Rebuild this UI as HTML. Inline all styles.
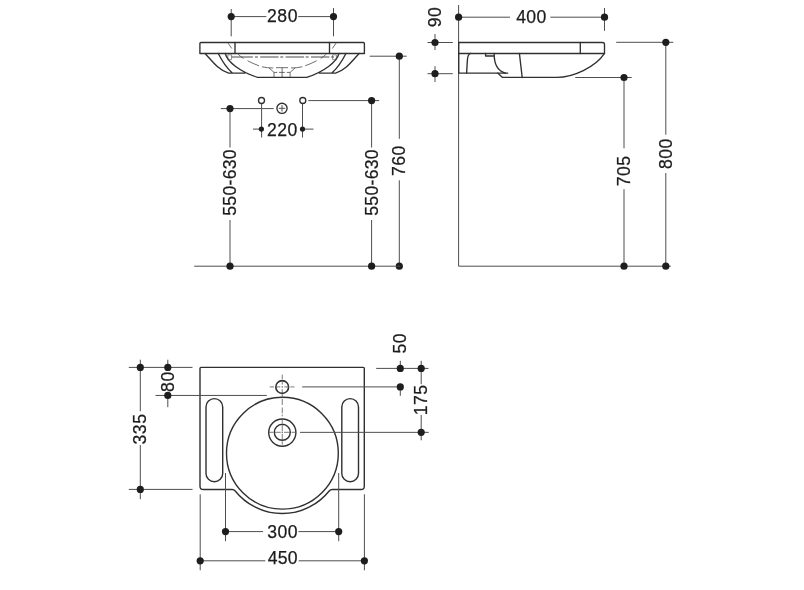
<!DOCTYPE html>
<html lang="en">
<head>
<meta charset="utf-8">
<title>Washbasin dimensions</title>
<style>
html,body{margin:0;padding:0;background:#fff;}
body{width:804px;height:590px;overflow:hidden;}
svg{display:block;will-change:transform;}
text{font-family:"Liberation Sans",sans-serif;font-size:17.6px;letter-spacing:0.5px;fill:#1c1c1c;stroke:#1c1c1c;stroke-width:0.25px;}
.t{stroke:#4e4e4e;stroke-width:1;fill:none;}
.d{fill:#1e1e1e;stroke:none;}
.k{stroke:#303030;stroke-width:1.35;fill:none;stroke-linecap:round;stroke-linejoin:round;}
.h{stroke:#4a4a4a;stroke-width:0.8;fill:none;}
</style>
</head>
<body>
<svg width="804" height="590" viewBox="0 0 804 590">
<rect width="804" height="590" fill="#fff"/>
<line class="t" x1="231.2" y1="9" x2="231.2" y2="36.3"/>
<line class="t" x1="333.5" y1="8" x2="333.5" y2="36.3"/>
<line class="t" x1="231.2" y1="16.6" x2="266.4" y2="16.6"/>
<line class="t" x1="298.2" y1="16.6" x2="333.5" y2="16.6"/>
<circle class="d" cx="231.2" cy="16.6" r="3.6"/>
<circle class="d" cx="333.5" cy="16.6" r="3.6"/>
<text x="282.50" y="21.65" text-anchor="middle">280</text>
<g class="k">
<path d="M199.9,53.45V43.5Q199.9,42.5 200.9,42.5H363.4Q364.4,42.5 364.4,43.5V53.45Z"/>
<path d="M235,42.5V53.45M329.5,42.5V53.45"/>
<path d="M205.1,53.45C212.5,61.5 219,70.5 228.6,73.1H244.8M218.3,53.45C222,61 226.5,67.5 232.3,73.1M225.2,53.45C227.5,62 240,71.5 257.5,77.4H282.2"/>
<g transform="translate(564.2,0) scale(-1,1)"><path d="M205.1,53.45C212.5,61.5 219,70.5 228.6,73.1H244.8M218.3,53.45C222,61 226.5,67.5 232.3,73.1M225.2,53.45C227.5,62 240,71.5 257.5,77.4H282.2"/></g>
</g>
<g class="h">
<path d="M228.1,43.1L231.8,48.5M237.7,53.9Q240.4,56.4 243.5,58.5M247.5,60.7Q253,63.6 259,65.8M261.9,66.8Q267.5,68 273.2,68"/>
<g transform="translate(564.2,0) scale(-1,1)"><path d="M228.1,43.1L231.8,48.5M237.7,53.9Q240.4,56.4 243.5,58.5M247.5,60.7Q253,63.6 259,65.8M261.9,66.8Q267.5,68 273.2,68"/></g>
<path d="M231.5,57H252.9" stroke-width="1"/>
<path d="M254.9,57H335" stroke-dasharray="3 2.3 18.4 1.7" stroke-width="1"/>
<path d="M227.8,54.8H231.6V59.6H227.8ZM332.6,54.8H336.4V59.6H332.6Z" stroke-width="0.6"/>
<path d="M276,67.7H288" />
<path d="M269,67.9L274,72.4V77.4M295.2,67.9L290.1,72.4V77.4M282.1,67.7V77.4"/>
<path d="M274,72.4H290.1" stroke-dasharray="3.3 1.7 5.8 2 3.3"/>
</g>
<line class="t" x1="369.7" y1="56.2" x2="406.7" y2="56.2"/>
<line class="t" x1="399.3" y1="56.2" x2="399.3" y2="138.8"/>
<line class="t" x1="399.3" y1="180.3" x2="399.3" y2="266.2"/>
<circle class="d" cx="399.3" cy="56.2" r="3.6"/>
<circle class="d" cx="399.3" cy="266.2" r="3.6"/>
<text transform="translate(405.0,160.6) rotate(-90)" text-anchor="middle">760</text>
<line class="t" x1="194.2" y1="266.2" x2="400" y2="266.2"/>
<line class="t" x1="220.8" y1="108.6" x2="273.7" y2="108.6"/>
<line class="t" x1="230" y1="108.6" x2="230" y2="147.5"/>
<line class="t" x1="230" y1="220" x2="230" y2="266.2"/>
<circle class="d" cx="230" cy="108.6" r="3.6"/>
<circle class="d" cx="230" cy="266.2" r="3.6"/>
<text transform="translate(235.7,182.4) rotate(-90)" text-anchor="middle" style="letter-spacing:0.3px">550-630</text>
<line class="t" x1="308.3" y1="100.6" x2="379.2" y2="100.6"/>
<line class="t" x1="371.6" y1="100.6" x2="371.6" y2="147.5"/>
<line class="t" x1="371.6" y1="220" x2="371.6" y2="266.2"/>
<circle class="d" cx="371.6" cy="100.6" r="3.6"/>
<circle class="d" cx="371.6" cy="266.2" r="3.6"/>
<text transform="translate(377.9,182.4) rotate(-90)" text-anchor="middle" style="letter-spacing:0.3px">550-630</text>
<line class="t" x1="261.6" y1="103.3" x2="261.6" y2="137.5"/>
<line class="t" x1="302.5" y1="103.3" x2="302.5" y2="137.5"/>
<circle class="k" cx="261.5" cy="100.5" r="3.0" fill="#fff"/>
<circle class="k" cx="302.8" cy="100.5" r="3.0" fill="#fff"/>
<line class="t" x1="253" y1="129.1" x2="261.3" y2="129.1"/>
<line class="t" x1="302.5" y1="129.1" x2="313.5" y2="129.1"/>
<circle class="d" cx="261.4" cy="129.1" r="2.6"/>
<circle class="d" cx="302.5" cy="129.1" r="2.6"/>
<text x="282.40" y="136.05" text-anchor="middle">220</text>
<circle class="k" cx="282" cy="108.3" r="5.1" fill="none"/>
<line class="t" x1="278.8" y1="108.3" x2="285.2" y2="108.3"/>
<line class="t" x1="282" y1="105.1" x2="282" y2="111.5"/>
<line class="t" x1="458.6" y1="5" x2="458.6" y2="266.2"/>
<line class="t" x1="458.6" y1="266.2" x2="670.8" y2="266.2"/>
<line class="t" x1="458.6" y1="17.2" x2="510" y2="17.2"/>
<line class="t" x1="550.3" y1="17.2" x2="604.5" y2="17.2"/>
<line class="t" x1="604.5" y1="8" x2="604.5" y2="30.8"/>
<circle class="d" cx="458.6" cy="17.2" r="3.6"/>
<circle class="d" cx="604.5" cy="17.2" r="3.6"/>
<text x="531.40" y="23.35" text-anchor="middle" style="letter-spacing:0.3px">400</text>
<line class="t" x1="427.5" y1="42.5" x2="452.8" y2="42.5"/>
<line class="t" x1="427.5" y1="73.7" x2="452.8" y2="73.7"/>
<line class="t" x1="435" y1="34" x2="435" y2="50"/>
<line class="t" x1="435" y1="66.2" x2="435" y2="82"/>
<circle class="d" cx="435" cy="42.5" r="3.6"/>
<circle class="d" cx="435" cy="73.7" r="3.6"/>
<text transform="translate(440.7,16.9) rotate(-90)" text-anchor="middle">90</text>
<g class="k">
<path d="M458.7,42.5H602.5Q604.5,42.5 604.5,44.5V53.45H458.7Z"/>
<path d="M580.3,42.5V53.45"/>
<path d="M458.7,53.45V73.1H507.7"/>
<path d="M470.6,53.45C468.6,54 467.7,56 467.4,60L466.6,73.1"/>
<path d="M485.6,53.45V56H493.7"/>
<path d="M494.2,53.45C494,64 498,71 505.5,73.1"/>
<path d="M519.4,53.45L522.2,77.5"/>
<path d="M497.7,73.1L502.5,77.4H556.7C573,77.5 595.5,67.2 604.5,53.45"/>
</g>
<line class="t" x1="575.3" y1="77.5" x2="631.7" y2="77.5"/>
<line class="t" x1="624" y1="77.5" x2="624" y2="148.3"/>
<line class="t" x1="624" y1="189.2" x2="624" y2="266.2"/>
<circle class="d" cx="624" cy="77.5" r="3.6"/>
<circle class="d" cx="624" cy="266.2" r="3.6"/>
<text transform="translate(629.6,170.8) rotate(-90)" text-anchor="middle">705</text>
<line class="t" x1="616.2" y1="42.3" x2="673.3" y2="42.3"/>
<line class="t" x1="665.8" y1="42.3" x2="665.8" y2="134.7"/>
<line class="t" x1="665.8" y1="173" x2="665.8" y2="266.2"/>
<circle class="d" cx="665.8" cy="42.3" r="3.6"/>
<circle class="d" cx="665.8" cy="266.2" r="3.6"/>
<text transform="translate(671.6,153.6) rotate(-90)" text-anchor="middle">800</text>
<g class="k" style="stroke-width:1.4">
<path d="M200.0,368.4Q200.0,367.4 201.0,367.4H363.3Q364.3,367.4 364.3,368.4V486.2Q364.3,489.5 361.0,489.5H332.30A4.0,4.0 0 0 0 329.17,491.00A60.2,60.2 0 0 1 235.23,491.00A4.0,4.0 0 0 0 232.10,489.5H203.3Q200.0,489.5 200.0,486.2Z"/>
<circle cx="282.4" cy="453.2" r="55.9" fill="none"/>
<rect x="206.0" y="398.6" width="16.7" height="83.2" rx="8.35" fill="none"/>
<rect x="341.8" y="398.6" width="16.7" height="83.2" rx="8.35" fill="none"/>
<circle cx="282.2" cy="387.0" r="6.4" fill="none" style="stroke-width:1.6"/>
<circle cx="282.3" cy="432.6" r="13.6" fill="none"/>
<circle cx="282.3" cy="432.3" r="8" fill="none"/>
</g>
<g class="h" style="stroke:#5a5a5a">
<path d="M282.25,374.6V379.2M282.25,380.8V384.6M282.25,386.4V387.5M282.25,389.2V393.3M282.25,394.3V397.3M282.25,398.8V405M282.25,407.5V413.3M282.25,414.5V416.3M282.25,418.4V423M282.25,424.7V431.3M282.25,431.9V433.0M282.25,433.8V440.5M282.25,441.3V444.7"/>
<path d="M269.7,386.9H274M275.5,386.9H280.3M281.7,386.9H282.9M284.2,386.9H289M290.3,386.9H294.5"/>
<path d="M268.6,432.3H273.2M274.8,432.3H280.7M281.7,432.3H282.9M284,432.3H289.9M291.5,432.3H295.7"/>
</g>
<line class="t" x1="128.8" y1="367.4" x2="192.5" y2="367.4"/>
<line class="t" x1="128.8" y1="489.4" x2="192.5" y2="489.4"/>
<line class="t" x1="140.3" y1="359.7" x2="140.3" y2="411.3"/>
<line class="t" x1="140.3" y1="445" x2="140.3" y2="499.2"/>
<circle class="d" cx="140.3" cy="367.4" r="3.6"/>
<circle class="d" cx="140.3" cy="489.4" r="3.6"/>
<text transform="translate(146.1,429) rotate(-90)" text-anchor="middle">335</text>
<line class="t" x1="167.8" y1="359.7" x2="167.8" y2="371"/>
<line class="t" x1="167.8" y1="393" x2="167.8" y2="407.2"/>
<line class="t" x1="155.5" y1="395.45" x2="266.8" y2="395.45"/>
<circle class="d" cx="167.8" cy="367.4" r="3.6"/>
<circle class="d" cx="167.8" cy="395.45" r="3.6"/>
<text transform="translate(173.6,381.6) rotate(-90)" text-anchor="middle">80</text>
<line class="t" x1="376.2" y1="368.4" x2="428.5" y2="368.4"/>
<line class="t" x1="400.3" y1="360.8" x2="400.3" y2="368.4"/>
<line class="t" x1="400.3" y1="386.9" x2="400.3" y2="395.8"/>
<line class="t" x1="302.2" y1="386.9" x2="400.3" y2="386.9"/>
<circle class="d" cx="400.3" cy="368.4" r="3.6"/>
<circle class="d" cx="400.3" cy="386.9" r="3.6"/>
<text transform="translate(405.8,343.3) rotate(-90)" text-anchor="middle">50</text>
<line class="t" x1="421.2" y1="360.8" x2="421.2" y2="384.2"/>
<line class="t" x1="421.2" y1="415" x2="421.2" y2="440.3"/>
<line class="t" x1="300" y1="432.35" x2="428.7" y2="432.35"/>
<circle class="d" cx="421.2" cy="368.4" r="3.6"/>
<circle class="d" cx="421.2" cy="432.35" r="3.6"/>
<text transform="translate(426.6,399.8) rotate(-90)" text-anchor="middle">175</text>
<line class="t" x1="225.5" y1="473" x2="225.5" y2="541.2"/>
<line class="t" x1="338.7" y1="473" x2="338.7" y2="541.2"/>
<line class="t" x1="225.5" y1="531.6" x2="263.1" y2="531.6"/>
<line class="t" x1="298.5" y1="531.6" x2="338.7" y2="531.6"/>
<circle class="d" cx="225.5" cy="531.6" r="3.6"/>
<circle class="d" cx="338.7" cy="531.6" r="3.6"/>
<text x="282.60" y="537.85" text-anchor="middle">300</text>
<line class="t" x1="200.2" y1="494.3" x2="200.2" y2="570.3"/>
<line class="t" x1="364.4" y1="494.3" x2="364.4" y2="570.3"/>
<line class="t" x1="200.2" y1="560.8" x2="265.3" y2="560.8"/>
<line class="t" x1="298.7" y1="560.8" x2="364.4" y2="560.8"/>
<circle class="d" cx="200.2" cy="560.8" r="3.6"/>
<circle class="d" cx="364.4" cy="560.8" r="3.6"/>
<text x="282.80" y="564.35" text-anchor="middle" style="letter-spacing:0.2px">450</text>
</svg>
</body>
</html>
